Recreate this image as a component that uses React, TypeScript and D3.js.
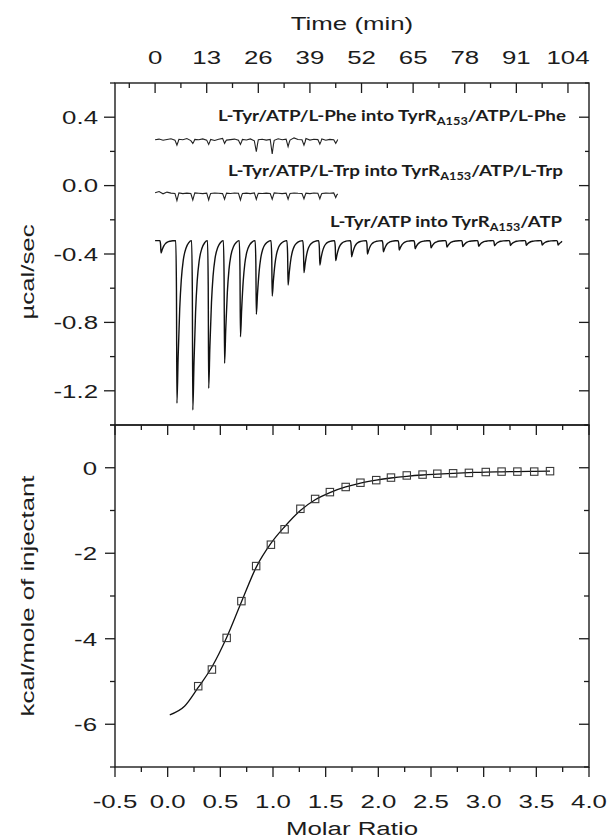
import React from "react";
import * as d3 from "d3";

// axis tick labels
const timeTicks = [0, 13, 26, 39, 52, 65, 78, 91, 104];
const powerTicks = [0.4, 0.0, -0.4, -0.8, -1.2];
const heatTicks = [0, -2, -4, -6];
const ratioTicks = [-0.5, 0, 0.5, 1, 1.5, 2, 2.5, 3, 3.5, 4];

// raw titration, L-Tyr/ATP into TyrR(A153)/ATP (µcal/sec)
const mainBaseline = -0.322;
const mainEnd = 102.5;
const mainInjTimes = [1.5, 5.5, 9.5, 13.5, 17.5, 21.5, 25.5, 29.5, 33.5, 37.5, 41.5, 45.5, 49.5,
  53.5, 57.5, 61.5, 65.5, 69.5, 73.5, 77.5, 81.5, 85.5, 89.5, 93.5, 97.5, 101.5];
const mainPeakMin = [-0.394, -1.273, -1.312, -1.185, -1.039, -0.884, -0.753, -0.646, -0.581,
  -0.509, -0.464, -0.439, -0.416, -0.4, -0.387, -0.377, -0.369, -0.364, -0.36, -0.357, -0.355,
  -0.352, -0.35, -0.349, -0.348, -0.347];

// control titrations (µcal/sec), sampled once per minute plus the injection dips
const ctrlEnd = 46.4;
const ctrlDipTimes = [5.5, 9.5, 13.5, 17.5, 21.5, 25.5, 29.5, 33.5, 37.5, 41.5, 45.5];
const pheBaseline = 0.267;
const pheNoise = [0.268, 0.272, 0.265, 0.27, 0.274, 0.266, 0.271, 0.268, 0.275, 0.263, 0.27,
  0.268, 0.273, 0.266, 0.27, 0.264, 0.271, 0.276, 0.266, 0.269, 0.272, 0.265, 0.27, 0.267, 0.273,
  0.262, 0.268, 0.271, 0.266, 0.27, 0.265, 0.274, 0.268, 0.272, 0.266, 0.279, 0.27, 0.268, 0.275,
  0.266, 0.271, 0.269, 0.273, 0.265, 0.27, 0.268, 0.269];
const pheDips = [0.237, 0.247, 0.241, 0.247, 0.241, 0.198, 0.185, 0.228, 0.237, 0.243, 0.247];
const trpBaseline = -0.045;
const trpNoise = [-0.042, -0.035, -0.048, -0.038, -0.044, -0.046, -0.043, -0.047, -0.044, -0.046,
  -0.043, -0.045, -0.047, -0.044, -0.046, -0.043, -0.045, -0.047, -0.044, -0.046, -0.043, -0.045,
  -0.046, -0.044, -0.047, -0.043, -0.045, -0.046, -0.044, -0.046, -0.043, -0.045, -0.047, -0.044,
  -0.046, -0.043, -0.045, -0.046, -0.044, -0.047, -0.043, -0.045, -0.046, -0.044, -0.045, -0.043,
  -0.048];
const trpDips = [-0.088, -0.084, -0.084, -0.08, -0.084, -0.08, -0.08, -0.08, -0.077, -0.077, -0.07];

// integrated heats
const molarRatio = [0.29, 0.42, 0.56, 0.7, 0.84, 0.98, 1.11, 1.26, 1.4, 1.54, 1.69, 1.83, 1.98,
  2.12, 2.27, 2.42, 2.56, 2.71, 2.86, 3.02, 3.17, 3.32, 3.48, 3.63];
const heat = [-5.11, -4.72, -3.98, -3.12, -2.3, -1.8, -1.44, -0.96, -0.73, -0.57, -0.45, -0.35,
  -0.29, -0.23, -0.18, -0.16, -0.14, -0.13, -0.12, -0.1, -0.09, -0.09, -0.09, -0.08];
const fitRatio = [0.02, 0.16, 0.29, 0.42, 0.56, 0.7, 0.84, 0.98, 1.11, 1.26, 1.4, 1.54, 1.69,
  1.83, 1.98, 2.12, 2.27, 2.42, 2.56, 2.71, 2.86, 3.02, 3.17, 3.32, 3.48, 3.63];
const fitHeat = [-5.78, -5.58, -5.14, -4.66, -3.97, -3.14, -2.33, -1.77, -1.38, -1.0, -0.75,
  -0.58, -0.45, -0.36, -0.29, -0.24, -0.2, -0.17, -0.15, -0.13, -0.115, -0.1, -0.095, -0.09,
  -0.085, -0.08];

const W = 609;
const H = 840;
const left = 115;
const right = 589;
const top = 83;
const mid = 425;
const bottom = 767;
const ink = "#1c1c1c";
const font = "Liberation Sans, Arial, sans-serif";
const stretch = 1.36;

const xTime = d3.scaleLinear().domain([-10.1, 109.3]).range([left, right]);
const yPower = d3.scaleLinear().domain([-1.4, 0.6]).range([mid, top]);
const xRatio = d3.scaleLinear().domain([-0.5, 4.0]).range([left, right]);
const yHeat = d3.scaleLinear().domain([-7, 1]).range([bottom, mid]);

// shape of one injection peak: [minutes from peak, fraction of depth]
const peakShape = [[-0.3, 0], [-0.12, 0.3], [0, 1], [0.3, 0.72], [0.7, 0.42], [1.1, 0.24],
  [1.6, 0.12], [2.3, 0.045], [3.0, 0.012], [3.6, 0]];

function mainTrace() {
  const pts: [number, number][] = [[0, mainBaseline]];
  mainInjTimes.forEach((t, i) => {
    const depth = mainPeakMin[i] - mainBaseline;
    peakShape.forEach(([dt, f]) => {
      if (t + dt < mainEnd) pts.push([t + dt, mainBaseline + depth * f]);
    });
  });
  pts.push([mainEnd, mainBaseline - 0.004]);
  return pts;
}

function controlTrace(noise: number[], dips: number[], base: number) {
  const pts: [number, number][] = noise.map((v, i) => [i, v] as [number, number]);
  ctrlDipTimes.forEach((t, i) => {
    pts.push([t, dips[i]]);
    pts.push([t + 0.3, base + (dips[i] - base) * 0.35]);
  });
  pts.sort((a, b) => a[0] - b[0]);
  return pts.filter((p) => p[0] <= ctrlEnd);
}

const lineMain = d3
  .line<[number, number]>()
  .x((d) => xTime(d[0]))
  .y((d) => yPower(d[1]))
  .curve(d3.curveMonotoneX);
const lineCtrl = d3
  .line<[number, number]>()
  .x((d) => xTime(d[0]))
  .y((d) => yPower(d[1]));
const lineFit = d3
  .line<number>()
  .x((d) => xRatio(d))
  .y((d, i) => yHeat(fitHeat[i]))
  .curve(d3.curveMonotoneX);

function Txt({ x, y, anchor = "middle", rot = 0, size = 19, children }: any) {
  return (
    <text
      transform={`translate(${x},${y}) rotate(${rot}) scale(${stretch},1)`}
      textAnchor={anchor}
      fontSize={size}
      fontFamily={font}
      fill={ink}
    >
      {children}
    </text>
  );
}

function Label({ x, y, width, main, tail }: any) {
  return (
    <text
      x={x}
      y={y}
      fontFamily="Lato, 'Open Sans', sans-serif"
      fontWeight={700}
      fontSize={15.5}
      fill={ink}
      textLength={width}
      lengthAdjust="spacingAndGlyphs"
    >
      {main}
      <tspan fontSize={10.5} dy={4}>A153</tspan>
      <tspan dy={-4}>{tail}</tspan>
    </text>
  );
}

export default function App() {
  const timeMinor = timeTicks.map((t) => t - 6.5).concat([timeTicks[timeTicks.length - 1] + 6.5])
    .filter((t) => xTime(t) > left && xTime(t) < right);
  const powerAll = d3.range(-1.4, 0.61, 0.2);
  const heatAll = d3.range(-7, 1.01, 1);
  const ratioAll = d3.range(-0.5, 4.01, 0.25);
  const isMajor = (v: number, step: number) => Math.abs(v / step - Math.round(v / step)) < 1e-6;

  return (
    <svg
      width={W}
      height={H}
      style={{ position: "absolute", left: 0, top: 0, background: "#fff" }}
    >
      <rect width={W} height={H} fill="#fff" />

      {/* top panel: raw power */}
      <path d={lineMain(mainTrace()) || ""} fill="none" stroke="#111" strokeWidth={1.4} />
      <path d={lineCtrl(controlTrace(pheNoise, pheDips, pheBaseline)) || ""} fill="none" stroke="#222" strokeWidth={1.1} />
      <path d={lineCtrl(controlTrace(trpNoise, trpDips, trpBaseline)) || ""} fill="none" stroke="#222" strokeWidth={1.1} />

      <Label x={218} y={121} width={348} main="L-Tyr/ATP/L-Phe into TyrR" tail="/ATP/L-Phe" />
      <Label x={228} y={176} width={335} main="L-Tyr/ATP/L-Trp into TyrR" tail="/ATP/L-Trp" />
      <Label x={330} y={227} width={232} main="L-Tyr/ATP into TyrR" tail="/ATP" />

      {/* bottom panel: integrated heats */}
      <path d={lineFit(fitRatio) || ""} fill="none" stroke="#111" strokeWidth={1.3} />
      {molarRatio.map((r, i) => (
        <rect
          key={i}
          x={xRatio(r) - 3.7}
          y={yHeat(heat[i]) - 3.7}
          width={7.4}
          height={7.4}
          fill="none"
          stroke="#3a3a3a"
          strokeWidth={1.1}
        />
      ))}

      {/* frames */}
      <g fill="none" stroke={ink} strokeWidth={1.4}>
        <rect x={left} y={top} width={right - left} height={mid - top} />
        <rect x={left} y={mid} width={right - left} height={bottom - mid} />
      </g>

      {/* ticks */}
      <g stroke={ink} strokeWidth={1.3}>
        {timeTicks.map((t) => (
          <line key={"tt" + t} x1={xTime(t)} x2={xTime(t)} y1={top} y2={top + 10} />
        ))}
        {timeMinor.map((t) => (
          <line key={"tm" + t} x1={xTime(t)} x2={xTime(t)} y1={top} y2={top + 5} />
        ))}
        {powerAll.map((v) => {
          const len = isMajor(v, 0.4) ? 11 : 5;
          return (
            <g key={"p" + v}>
              <line x1={left - len} x2={left} y1={yPower(v)} y2={yPower(v)} />
              <line x1={right - len + 1} x2={right} y1={yPower(v)} y2={yPower(v)} />
            </g>
          );
        })}
        {heatAll.map((v) => {
          const len = isMajor(v, 2) ? 10 : 5;
          return (
            <g key={"h" + v}>
              <line x1={left - len} x2={left} y1={yHeat(v)} y2={yHeat(v)} />
              <line x1={right - len} x2={right} y1={yHeat(v)} y2={yHeat(v)} />
            </g>
          );
        })}
        {ratioAll.map((v) => {
          const len = isMajor(v, 0.5) ? 10 : 5;
          return (
            <g key={"r" + v}>
              <line x1={xRatio(v)} x2={xRatio(v)} y1={mid} y2={mid + len} />
              <line x1={xRatio(v)} x2={xRatio(v)} y1={bottom} y2={bottom + len} />
            </g>
          );
        })}
      </g>

      {/* tick labels */}
      {timeTicks.map((t) => (
        <Txt key={"lt" + t} x={xTime(t)} y={63.5}>{t}</Txt>
      ))}
      {powerTicks.map((v) => (
        <Txt key={"lp" + v} x={98} y={yPower(v) + 6.8} anchor="end">{v.toFixed(1)}</Txt>
      ))}
      {heatTicks.map((v) => (
        <Txt key={"lh" + v} x={97} y={yHeat(v) + 6.8} anchor="end">{v}</Txt>
      ))}
      {ratioTicks.map((v) => (
        <Txt key={"lr" + v} x={xRatio(v)} y={808}>{v.toFixed(1)}</Txt>
      ))}

      {/* axis titles */}
      <Txt x={(left + right) / 2} y={29.5}>Time (min)</Txt>
      <Txt x={(left + right) / 2} y={835}>Molar Ratio</Txt>
      <Txt x={34} y={(top + mid) / 2 + 18} rot={-90}>µcal/sec</Txt>
      <Txt x={34} y={(mid + bottom) / 2} rot={-90}>kcal/mole of injectant</Txt>
    </svg>
  );
}
